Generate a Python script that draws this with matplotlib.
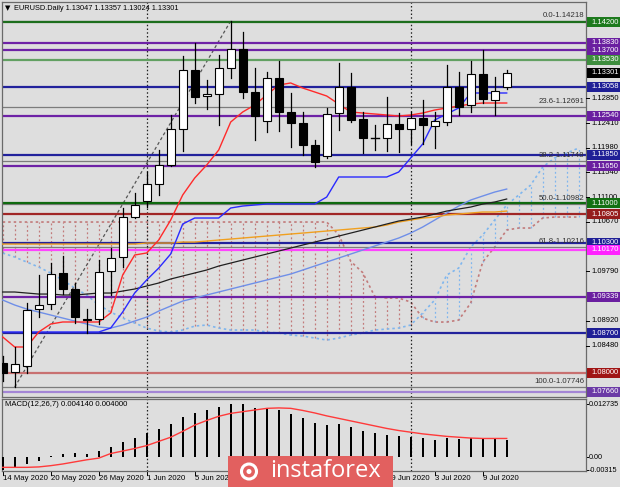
import matplotlib
matplotlib.use("Agg")
import matplotlib.pyplot as plt
from matplotlib.patches import Rectangle, Circle
import numpy as np

# ---------------- data ----------------
opens = [1.0818, 1.08018, 1.08119, 1.09121, 1.09215, 1.09768, 1.0948, 1.0895, 1.08944, 1.09798,
         1.1004, 1.10758, 1.11036, 1.11331, 1.11672, 1.12309, 1.13351, 1.12895, 1.12922, 1.13392,
         1.13723, 1.12957, 1.1245, 1.13215, 1.12614, 1.1242, 1.1202, 1.11831, 1.12586, 1.13057,
         1.1248, 1.1216, 1.12155, 1.12392, 1.12309, 1.12498, 1.12366, 1.12427, 1.13056, 1.12733,
         1.13275, 1.12821, 1.13047]
highs = [1.0830, 1.0846, 1.09238, 1.09728, 1.09945, 1.10064, 1.09581, 1.0913, 1.1000, 1.10205,
         1.10912, 1.11172, 1.11543, 1.11937, 1.12556, 1.13604, 1.13823, 1.13175, 1.13617, 1.14218,
         1.14018, 1.13382, 1.13321, 1.13516, 1.1294, 1.12614, 1.12114, 1.12674, 1.13481, 1.13304,
         1.12614, 1.1238, 1.12869, 1.12597, 1.12614, 1.12828, 1.1261, 1.1344, 1.13311, 1.1351,
         1.13705, 1.13233, 1.13357]
lows = [1.0785, 1.07746, 1.0799, 1.0899, 1.0912, 1.0939, 1.08874, 1.0870, 1.0887, 1.09374,
        1.0987, 1.10735, 1.1093, 1.11142, 1.1166, 1.1192, 1.12763, 1.12662, 1.12379, 1.13205,
        1.12851, 1.12114, 1.1225, 1.12279, 1.11986, 1.11849, 1.11642, 1.11791, 1.1229, 1.1244,
        1.11879, 1.11937, 1.11926, 1.11907, 1.1205, 1.1204, 1.1197, 1.1238, 1.12556, 1.12604,
        1.12763, 1.12556, 1.13024]
closes = [1.0800, 1.08149, 1.09109, 1.09197, 1.09745, 1.0948, 1.0898, 1.0893, 1.09786, 1.10023,
          1.10758, 1.10965, 1.11331, 1.11672, 1.12309, 1.13351, 1.1288, 1.1292, 1.13382, 1.13723,
          1.12957, 1.12544, 1.13215, 1.12614, 1.12409, 1.1202, 1.1172, 1.12574, 1.13046, 1.12468,
          1.12144, 1.12148, 1.12392, 1.12309, 1.12498, 1.12379, 1.1245, 1.13056, 1.12703, 1.13275,
          1.12834, 1.1298, 1.13301]

tenkan = [1.08632, 1.08455, 1.08455, 1.08720, 1.08861, 1.08897, 1.08897, 1.08897, 1.08897, 1.09056,
          1.09728, 1.10081, 1.10117, 1.10346, 1.10700, 1.11142, 1.11442, 1.11672, 1.11937, 1.12432,
          1.12609, 1.12733, 1.12910, 1.13086, 1.13122, 1.13033, 1.12963, 1.12892, 1.12750, 1.12609,
          1.12591, 1.12574, 1.12556, 1.12538, 1.12556, 1.12591, 1.12644, 1.12680, 1.12715, 1.12750,
          1.12768, 1.12768, 1.12768]
kijun = [1.0872, 1.0872, 1.0872, 1.0872, 1.0872, 1.0872, 1.0872, 1.0872, 1.0872, 1.0879,
         1.09074, 1.0941, 1.0964, 1.0985, 1.10099, 1.10629, 1.10735, 1.10735, 1.10735, 1.10912,
         1.10947, 1.10965, 1.10983, 1.10983, 1.10983, 1.10983, 1.10983, 1.11106, 1.1146, 1.1146,
         1.1146, 1.1146, 1.1146, 1.11548, 1.11796, 1.12043, 1.12468, 1.12574, 1.1268, 1.12945,
         1.12945, 1.12945, 1.12945]
span_a = [1.10116, 1.10045, 1.09957, 1.09868, 1.09762, 1.09639, 1.09497, 1.09374, 1.09197, 1.09073,
          1.08967, 1.08878, 1.08790, 1.08737, 1.08719, 1.08755, 1.08825, 1.08843, 1.08790, 1.08755,
          1.08755, 1.08755, 1.08719, 1.08702, 1.08666, 1.08649, 1.08613, 1.08578, 1.08613, 1.08666,
          1.08702, 1.08755, 1.08772, 1.08790, 1.08843, 1.09055, 1.09285, 1.09727, 1.09851, 1.10222,
          1.10434, 1.10700, 1.10965, 1.11141, 1.11318, 1.11636, 1.11796, 1.11884, 1.11972]
span_b = [1.10664] * 28 + [1.1044, 1.0997, 1.0977, 1.0935, 1.0932, 1.0932, 1.0925, 1.08967,
          1.08896, 1.08896, 1.08931, 1.09232, 1.09957, 1.10222, 1.10523, 1.10558, 1.10558, 1.10735,
          1.10752, 1.10752, 1.10752]
ma_black = [1.09427, 1.09427, 1.09409, 1.09391, 1.09391, 1.09374, 1.09374, 1.09391, 1.09409, 1.09409,
            1.09444, 1.0948, 1.09533, 1.09586, 1.09657, 1.0971, 1.09763, 1.09816, 1.09886, 1.09939,
            1.09992, 1.10045, 1.10098, 1.10151, 1.10204, 1.10257, 1.1031, 1.10363, 1.10416, 1.10469,
            1.10522, 1.10575, 1.10629, 1.10682, 1.10717, 1.10752, 1.10805, 1.10858, 1.10894, 1.10929,
            1.10982, 1.11018, 1.11071]
ma_orange = [1.10275] * 12 + [1.10293, 1.10293, 1.10293, 1.1031, 1.1031, 1.10328, 1.10346, 1.10363,
             1.10381, 1.10399, 1.10416, 1.10434, 1.10452, 1.10469, 1.10487, 1.10505, 1.10522, 1.1054,
             1.10558, 1.10575, 1.10611, 1.10664, 1.10699, 1.10735, 1.10752, 1.10788, 1.10805, 1.10823,
             1.10841, 1.10841, 1.10858]
ma_blue = [1.09285, 1.09197, 1.09126, 1.09073, 1.0902, 1.08967, 1.08914, 1.08861, 1.08808, 1.0879,
           1.08843, 1.08914, 1.08984, 1.0909, 1.09179, 1.09267, 1.0932, 1.09374, 1.09427, 1.0948,
           1.09533, 1.09586, 1.09639, 1.09692, 1.09745, 1.09815, 1.09886, 1.09957, 1.10028, 1.10098,
           1.10169, 1.1024, 1.1031, 1.10381, 1.1047, 1.10576, 1.10699, 1.10823, 1.10947, 1.11053,
           1.11124, 1.11194, 1.11247]

macd_hist = [-0.00315, -0.0024, -0.0016, -0.0010, 0.0003, 0.0008, 0.0011, 0.0008, 0.0016, 0.0025,
             0.0037, 0.0046, 0.0057, 0.0067, 0.0080, 0.0097, 0.0107, 0.0114, 0.0121, 0.012735,
             0.0127, 0.0119, 0.0118, 0.0113, 0.0103, 0.0093, 0.0081, 0.0077, 0.0080, 0.0073,
             0.0064, 0.0059, 0.0053, 0.0051, 0.0048, 0.0045, 0.0041, 0.0045, 0.0043, 0.0045,
             0.0045, 0.0044, 0.00414]
macd_signal = [-0.0024, -0.0024, -0.0024, -0.0023, -0.0020, -0.0016, -0.0011, -0.0006, -0.0002, 0.0009,
               0.0015, 0.0021, 0.0028, 0.0038, 0.0048, 0.0062, 0.0077, 0.0088, 0.0098, 0.0105,
               0.0109, 0.0113, 0.0117, 0.0118, 0.0117, 0.0112, 0.0106, 0.0099, 0.0093, 0.0087,
               0.0081, 0.0075, 0.0069, 0.0064, 0.0060, 0.0056, 0.0053, 0.0050, 0.0048, 0.0046,
               0.0045, 0.0045, 0.0045]

# date labels that are not covered by the watermark
date_labels = ['14 May 2020', '20 May 2020', '26 May 2020', '1 Jun 2020', '5 Jun 2020',
               '29 Jun 2020', '3 Jul 2020', '9 Jul 2020']
date_index = [0, 4, 8, 12, 16, 32, 36, 40]
separator_index = [12, 34]

level_prices = [1.14200, 1.13830, 1.13700, 1.13530, 1.13058, 1.12540, 1.11850, 1.11650,
                1.11000, 1.10805, 1.10300, 1.10170, 1.09339, 1.08700, 1.08000, 1.07660]
level_line_colors = ['#1d6e1d', '#6e22a6', '#6e22a6', '#62a062', '#22229c', '#6e22a6', '#22229c', '#6e22a6',
                     '#0f6a0f', '#a02626', '#22229c', '#ff44ff', '#6e22a6', '#22229c', '#c87070', '#a486d6']
level_box_colors = ['#1d7a1d', '#6a1fa0', '#6a1fa0', '#3e8e3e', '#1f1f96', '#6a1fa0', '#1f1f96', '#6a1fa0',
                    '#127012', '#951c1c', '#1f1f96', '#ff22ff', '#6a1fa0', '#1f1f96', '#a01414', '#6b3aa6']
last_price = 1.13301

fib_names = ['0.0', '23.6', '38.2', '50.0', '61.8', '100.0']
fib_prices = [1.14218, 1.12691, 1.11748, 1.10982, 1.10216, 1.07746]
fib_anchor_index = [1, 19]
# price-scale labels that are visible (the others sit under the level boxes)
price_ticks = [1.12850, 1.12410, 1.11980, 1.11540, 1.11100, 1.10670, 1.09790, 1.08920, 1.08480]
macd_ticks = [0.012735, 0.0, -0.00315]
macd_tick_text = ['0.012735', '0.00', '-0.00315']

# ---------------- layout ----------------
W, H = 620, 487
BG = '#dedede'
FONT = ['Liberation Sans', 'DejaVu Sans']
plt.rcParams['font.family'] = FONT
fig = plt.figure(figsize=(W / 100, H / 100), dpi=100, facecolor=BG)


def add_px(x0, y0, x1, y1, **kw):
    return fig.add_axes([x0 / W, 1 - y1 / H, (x1 - x0) / W, (y1 - y0) / H], **kw)


PPU = 5657.0          # pixels per price unit
X0, X1 = 2, 586
MY0, MY1 = 2, 397
GY0, GY1 = 399, 471


def kx(px):
    return (px - 2.7) / 12.0


ax = add_px(X0, MY0, X1, MY1)
axm = add_px(X0, GY0, X1, GY1)
for a in (ax, axm):
    a.set_facecolor(BG)
    a.set_xlim(kx(X0), kx(X1))
    a.set_xticks([])
    a.set_yticks([])
    for s in a.spines.values():
        s.set_color('#6a6a6a')
        s.set_linewidth(0.9)
ax.set_ylim(1.142 - (MY1 - 22) / PPU, 1.142 + (22 - MY0) / PPU)
mpp = 0.000239
axm.set_ylim(-(GY1 - 457.3) * mpp, (457.3 - GY0) * mpp)

n = len(opens)
idx = np.arange(n)
idx_f = np.arange(len(span_a))

# Ichimoku cloud verticals
for k in idx_f:
    a_, b_ = span_a[k], span_b[k]
    col = '#7fb6ee' if a_ > b_ else '#c27a7a'
    ax.plot([k, k], [min(a_, b_), max(a_, b_)], color=col, lw=0.9, ls=(0, (1.5, 2)), zorder=1)
ax.plot(idx_f, span_a, color='#7fb6ee', lw=1.2, ls=(0, (1.5, 1.8)), zorder=1.5)
ax.plot(idx_f, span_b, color='#c27a7a', lw=1.2, ls=(0, (1.5, 1.8)), zorder=1.5)

# fibonacci levels
for nm, p in zip(fib_names, fib_prices):
    ax.axhline(p, color='#7c7c7c', lw=0.9, zorder=2)
    ax.text(kx(584), p + 2 / PPU, f'{nm}-{p:.5f}', ha='right', va='bottom', fontsize=5.6,
            color='#303030', zorder=9)
ax.plot(fib_anchor_index, [fib_prices[-1], fib_prices[0]], color='#555555', lw=0.9,
        ls=(0, (2.5, 2)), zorder=2)

# horizontal levels
for p, c in zip(level_prices, level_line_colors):
    ax.axhline(p, color=c, lw=1.6, zorder=2.5)

# moving averages
ax.plot(idx, ma_blue, color='#6f8fe8', lw=1.0, zorder=3)
ax.plot(idx, ma_orange, color='#f0a020', lw=1.0, zorder=3)
ax.plot(idx, ma_black, color='#202020', lw=0.9, zorder=3)
ax.plot(idx, kijun, color='#2a2aff', lw=1.0, zorder=3.2)
ax.plot(idx, tenkan, color='#ff2a2a', lw=1.0, zorder=3.2)

# period separators
for s in separator_index:
    for a in (ax, axm):
        a.axvline(s, color='#202020', lw=0.9, ls=(0, (1.2, 1.8)), zorder=2)

# candles
bw = 0.64
for k in idx:
    o, h, l, c = opens[k], highs[k], lows[k], closes[k]
    ax.plot([k, k], [l, h], color='black', lw=0.9, zorder=4)
    lo, hi = min(o, c), max(o, c)
    if hi - lo < 0.00015:
        ax.plot([k - bw / 2, k + bw / 2], [c, c], color='black', lw=1.0, zorder=5)
    else:
        ax.add_patch(Rectangle((k - bw / 2, lo), bw, hi - lo,
                               facecolor='white' if c >= o else 'black',
                               edgecolor='black', lw=0.8, zorder=5))

# right price scale
ytr = ax.get_yaxis_transform()
axw = X1 - X0
for p in price_ticks:
    ax.plot([1.0, 1.0 + 3 / axw], [p, p], color='black', lw=0.7, transform=ytr, clip_on=False, zorder=6)
    ax.text(1.0 + 5 / axw, p, f'{p:.5f}', transform=ytr, ha='left', va='center', fontsize=5.5,
            color='black', clip_on=False, zorder=6)
box_h = 10 / PPU
all_boxes = list(zip(level_prices, level_box_colors)) + [(last_price, '#000000')]
for p, c in all_boxes:
    ax.add_patch(Rectangle((1.0 + 1 / axw, p - box_h / 2), 33 / axw, box_h, transform=ytr,
                           facecolor=c, edgecolor='none', clip_on=False, zorder=7))
    ax.text(1.0 + 5 / axw, p, f'{p:.5f}', transform=ytr, ha='left', va='center', fontsize=5.5,
            color='white', clip_on=False, zorder=8)

# MACD panel
axm.bar(idx, macd_hist, width=0.2, color='black', zorder=3)
axm.plot(idx, macd_signal, color='#ff3a3a', lw=1.0, zorder=4)
mtr = axm.get_yaxis_transform()
for v, t in zip(macd_ticks, macd_tick_text):
    axm.plot([1.0, 1.0 + 2 / axw], [v, v], color='black', lw=0.7, transform=mtr, clip_on=False)
    axm.text(1.0 + 3 / axw, v, t, transform=mtr, ha='left', va='center', fontsize=5.2,
             color='black', clip_on=False)
axm.text(3 / axw, 1 - 6 / (GY1 - GY0), 'MACD(12,26,7) 0.004140 0.004000', transform=axm.transAxes,
         ha='left', va='center', fontsize=5.6, color='black')

# date axis
xtr = axm.get_xaxis_transform()
gh = GY1 - GY0
for k, lab in zip(date_index, date_labels):
    axm.plot([k, k], [0, -4 / gh], color='black', lw=0.7, transform=xtr, clip_on=False)
    axm.text(k, -7 / gh, lab, transform=xtr, ha='left', va='center', fontsize=5.6,
             color='black', clip_on=False)

# overlay: header and watermark
ov = fig.add_axes([0, 0, 1, 1], zorder=10)
ov.set_xlim(0, W)
ov.set_ylim(H, 0)
ov.axis('off')
ov.text(5, 8.5, '▼', fontsize=5, ha='left', va='center', color='black', family=['DejaVu Sans'])
ov.text(14, 8.5, 'EURUSD.Daily 1.13047 1.13357 1.13024 1.13301', fontsize=5.3, ha='left',
        va='center', color='black')
ov.add_patch(Rectangle((228, 456), 165, 31, facecolor='#e2605f', edgecolor='none'))
ov.add_patch(Circle((249, 471.5), 7.5, facecolor='none', edgecolor='white', lw=2.2))
ov.add_patch(Circle((249, 471.5), 2.5, facecolor='white', edgecolor='none'))
ov.text(325, 471, 'instaforex', fontsize=17, color='white', ha='center', va='center',
        family=['Open Sans', 'DejaVu Sans'])

fig.savefig('out.png', dpi=100, facecolor=BG)
